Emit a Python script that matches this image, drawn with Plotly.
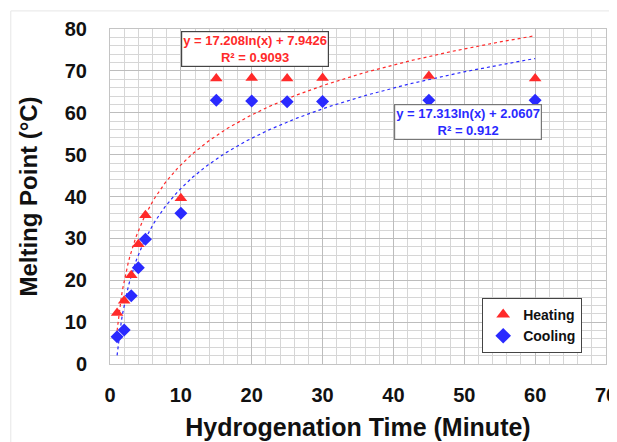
import numpy as np
import plotly.graph_objects as go

time_min = [1, 2, 3, 4, 5, 10, 15, 20, 25, 30, 45, 60]
heating = [12.2, 15.1, 21.2, 28.6, 35.5, 39.6, 68.2, 68.3, 68.2, 68.3, 68.8, 68.2]
cooling = [6.5, 8.1, 16.3, 23.0, 29.8, 36.0, 63.0, 62.8, 62.6, 62.7, 63.0, 63.0]

heat_a, heat_b, heat_r2 = 17.208, 7.9426, "0.9093"
cool_a, cool_b, cool_r2 = 17.313, 2.0607, "0.912"

xfit = np.linspace(min(time_min), max(time_min), 300)
heat_fit = heat_a * np.log(xfit) + heat_b
cool_fit = cool_a * np.log(xfit) + cool_b

RED = "#ff2a2a"
BLUE = "#2a2aff"
FONT = "Liberation Sans, Arial, sans-serif"

fig = go.Figure()
fig.add_trace(go.Scatter(x=xfit, y=heat_fit, mode="lines",
                         line=dict(color=RED, width=1.2, dash="dot"), showlegend=False, hoverinfo="skip"))
fig.add_trace(go.Scatter(x=xfit, y=cool_fit, mode="lines",
                         line=dict(color=BLUE, width=1.2, dash="dot"), showlegend=False, hoverinfo="skip"))
fig.add_trace(go.Scatter(x=time_min, y=heating, mode="markers", name="Heating",
                         marker=dict(symbol="triangle-up", size=11, color=RED)))
fig.add_trace(go.Scatter(x=time_min, y=cooling, mode="markers", name="Cooling",
                         marker=dict(symbol="diamond", size=10, color=BLUE)))

fig.add_annotation(x=0.292, y=0.994, xref="paper", yref="paper", xanchor="center", yanchor="top",
                   text=f"<b>y = {heat_a}ln(x) + {heat_b}<br>R² = {heat_r2}</b>",
                   showarrow=False, font=dict(family=FONT, size=13, color=RED),
                   bgcolor="white", bordercolor="#444444", borderwidth=1.2, borderpad=1)
fig.add_annotation(x=0.722, y=0.775, xref="paper", yref="paper", xanchor="center", yanchor="top",
                   text=f"<b>y = {cool_a}ln(x) + {cool_b}<br>R² = {cool_r2}</b>",
                   showarrow=False, font=dict(family=FONT, size=13, color=BLUE),
                   bgcolor="white", bordercolor="#777777", borderwidth=1.2, borderpad=1)

fig.add_shape(type="rect", xref="paper", yref="paper", x0=-0.2, x1=1.05, y0=-0.4, y1=1.054,
              line=dict(color="#e6e6e6", width=1), layer="below")

axis_common = dict(showline=True, linecolor="#c4c4c4", linewidth=1, mirror=True,
                   gridcolor="#bdbdbd", gridwidth=1, zeroline=False, ticks="", automargin=False,
                   ticklabeloverflow="allow",
                   tickfont=dict(family=FONT, size=20, color="#111111", weight="bold"))

fig.update_xaxes(range=[0, 70], dtick=10, **axis_common,
                 minor=dict(dtick=2, showgrid=True, gridcolor="#d6d6d6", gridwidth=1),
                 ticklabelstandoff=13,
                 title=dict(text="<b>Hydrogenation Time (Minute)</b>",
                            font=dict(family=FONT, size=25, color="#111111"), standoff=13))
fig.update_yaxes(range=[0, 80], dtick=10, **axis_common,
                 minor=dict(dtick=2, showgrid=True, gridcolor="#d6d6d6", gridwidth=1),
                 ticklabelstandoff=18,
                 title=dict(text="<b>Melting Point (°C)</b>",
                            font=dict(family=FONT, size=24, color="#111111"), standoff=20))

fig.update_layout(
    width=609, height=434,
    margin=dict(l=102, r=11, t=21, b=78, autoexpand=False),
    paper_bgcolor="white", plot_bgcolor="white",
    font=dict(family=FONT),
    legend=dict(x=0.952, y=0.197, xanchor="right", yanchor="top",
                bgcolor="white", bordercolor="#444444", borderwidth=1,
                font=dict(family=FONT, size=14, color="#111111", weight="bold"),
                itemsizing="constant", itemwidth=30, tracegroupgap=0),
)

fig.write_html("out.html")
